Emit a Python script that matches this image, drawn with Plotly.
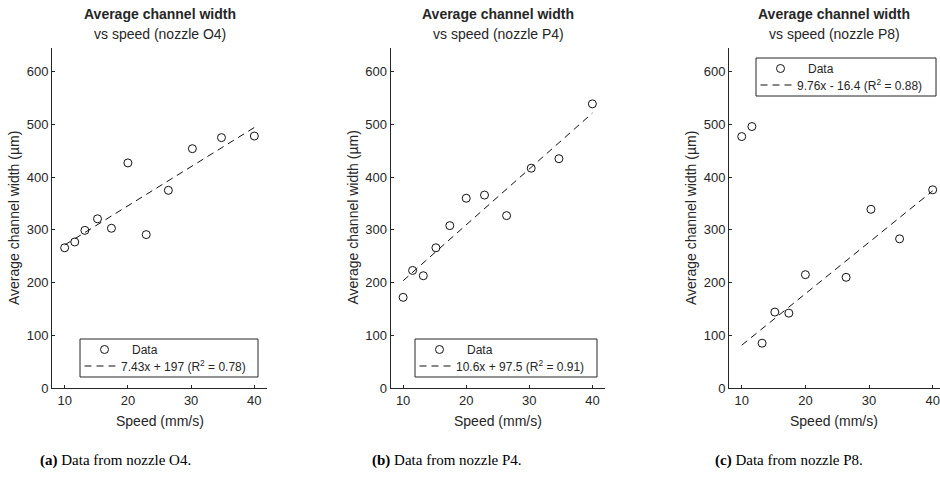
import plotly.graph_objects as go

W, H = 940, 477
# the captured page area is 485px tall and is shown at 477px
FIG_H = 485

# ---- data ----
speed_o4 = [10, 11.6, 13.2, 15.2, 17.4, 20, 22.9, 26.4, 30.2, 34.8, 40]
width_o4 = [266, 277, 299, 321, 303, 427, 291, 375, 454, 475, 478]
fit_x_o4 = [10, 40]
fit_y_o4 = [271.3, 494.2]

speed_p4 = [10, 11.5, 13.2, 15.2, 17.4, 20, 22.9, 26.4, 30.3, 34.7, 40]
width_p4 = [172, 223, 213, 266, 308, 360, 366, 327, 417, 435, 539]
fit_x_p4 = [10, 40]
fit_y_p4 = [203.5, 521.5]

speed_p8 = [10, 11.6, 13.2, 15.2, 17.4, 20, 26.4, 30.3, 34.8, 40]
width_p8 = [477, 496, 85, 144, 142, 215, 210, 339, 283, 376]
fit_x_p8 = [10, 40]
fit_y_p8 = [81.2, 374.0]

nozzles = ["O4", "P4", "P8"]
fit_labels = ["7.43x + 197 (R<sup>2</sup> = 0.78)",
              "10.6x + 97.5 (R<sup>2</sup> = 0.91)",
              "9.76x - 16.4 (R<sup>2</sup> = 0.88)"]
captions = ["<b>(a)</b> Data from nozzle O4.",
            "<b>(b)</b> Data from nozzle P4.",
            "<b>(c)</b> Data from nozzle P8."]
x_ticks = [10, 20, 30, 40]
y_ticks = [0, 100, 200, 300, 400, 500, 600]

series = [(speed_o4, width_o4, fit_x_o4, fit_y_o4),
          (speed_p4, width_p4, fit_x_p4, fit_y_p4),
          (speed_p8, width_p8, fit_x_p8, fit_y_p8)]

# ---- layout geometry (picture pixels) ----
plot_left = [52, 390.5, 729]
plot_right = [267, 605, 940]
x_ranges = [[8, 42], [8, 42], [8, 41.15]]
plot_top, plot_bot = 48, 388
# legend boxes: left, top, right, bottom
legend_box = [(80, 339, 258, 377), (415, 339, 597, 377), (756, 58, 936, 96)]
caption_x = [115, 447, 789]
title_cx = [160, 498, 834]

FONT = "Liberation Sans, Arial, sans-serif"
TXT = "#262626"
MK = "#111111"


def px(x):
    return x / W


def py(y):
    return 1 - y / H


fig = go.Figure()
annotations = []
shapes = []


def ann(text, x, y, size=14, xanchor="center", family=FONT, color=TXT, angle=0):
    return dict(text=text, x=px(x), y=py(y), xref="paper", yref="paper",
                showarrow=False, xanchor=xanchor, yanchor="middle",
                textangle=angle,
                font=dict(family=family, size=size, color=color))


for i, (sx, sy, fx, fy) in enumerate(series):
    n = i + 1
    xa = "x" if n == 1 else f"x{n}"
    ya = "y" if n == 1 else f"y{n}"
    fig.add_trace(go.Scatter(
        x=sx, y=sy, mode="markers", name="Data",
        marker=dict(symbol="circle-open", size=8, color=MK,
                    line=dict(width=1, color=MK)),
        xaxis=xa, yaxis=ya, cliponaxis=False, showlegend=False))
    fig.add_trace(go.Scatter(
        x=fx, y=fy, mode="lines", name=fit_labels[i],
        line=dict(color=MK, width=1, dash="7px,5px"),
        xaxis=xa, yaxis=ya, showlegend=False))

    axis_common = dict(showgrid=False, zeroline=False, showline=True,
                       linecolor=TXT, linewidth=1, ticks="inside", ticklen=3,
                       tickcolor=TXT, tickwidth=1, ticklabeloverflow="allow",
                       tickfont=dict(family=FONT, size=13, color=TXT))
    fig.update_layout(**{
        ("xaxis" if n == 1 else f"xaxis{n}"): dict(
            domain=[px(plot_left[i]), min(1.0, px(plot_right[i]))],
            range=x_ranges[i], tickvals=x_ticks, anchor=ya,
            **axis_common),
        ("yaxis" if n == 1 else f"yaxis{n}"): dict(
            domain=[py(plot_bot), py(plot_top)],
            range=[0, 645], tickvals=y_ticks, anchor=xa,
            **axis_common),
    })

    cx = title_cx[i]
    annotations += [
        ann("<b>Average channel width</b>", cx, 14),
        ann(f"vs speed (nozzle {nozzles[i]})", cx, 34),
        ann("Speed (mm/s)", cx, 421),
        ann("Average channel width (µm)", plot_left[i] - 38,
            (plot_top + plot_bot) / 2, angle=-90),
        ann(captions[i], caption_x[i], 460, size=15,
            family="Liberation Serif, Times New Roman, serif", color="#000000"),
    ]

    # ---- legend box drawn by hand (matches the MATLAB legend layout) ----
    L, T, R, B = legend_box[i]
    row1 = T + 10.5
    row2 = T + 27
    shapes += [
        dict(type="rect", xref="paper", yref="paper",
             x0=px(L), x1=px(R), y0=py(B), y1=py(T),
             line=dict(color=TXT, width=1), fillcolor="white", layer="above"),
        dict(type="circle", xref="paper", yref="paper",
             x0=px(L + 20.5), x1=px(L + 28.5), y0=py(row1 + 4), y1=py(row1 - 4),
             line=dict(color=MK, width=1), layer="above"),
        dict(type="line", xref="paper", yref="paper",
             x0=px(L + 4.5), x1=px(L + 37.5), y0=py(row2), y1=py(row2),
             line=dict(color=MK, width=1, dash="7px,5px"), layer="above"),
    ]
    annotations += [
        ann("Data", L + 50, row1, size=12, xanchor="left"),
        ann(fit_labels[i], L + 38.5, row2, size=12, xanchor="left"),
    ]

fig.update_layout(width=W, height=FIG_H, margin=dict(l=0, r=0, t=0, b=0),
                  paper_bgcolor="white", plot_bgcolor="white",
                  annotations=annotations, shapes=shapes, showlegend=False)

fig.write_html(
    "out.html",
    config={"displayModeBar": False},
    post_script="document.body.style.margin='0';document.body.style.overflow='hidden';",
)
